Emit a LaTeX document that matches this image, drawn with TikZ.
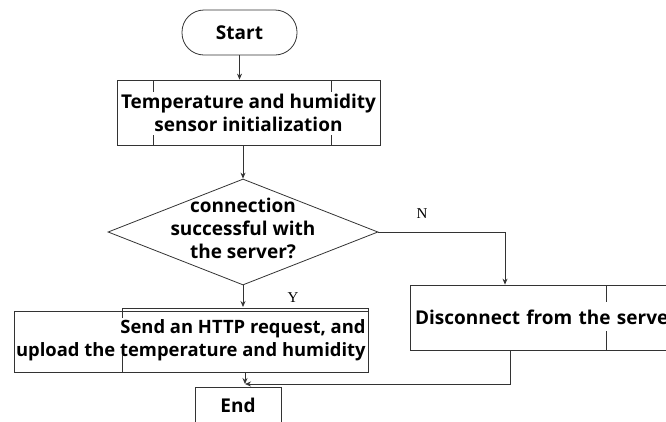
\documentclass[tikz,border=0pt]{standalone}
\usepackage{fontspec}
\setmainfont{Open Sans}
\newfontfamily\ynfont{Liberation Serif}
\usetikzlibrary{shapes.geometric,arrows.meta}
\newcommand{\yn}[1]{{\normalfont\ynfont\fontsize{15}{15}\selectfont #1}}

\begin{document}
\begin{tikzpicture}[x=1pt,y=-1pt,line width=0.8pt,draw=black!80,
    >={Stealth[length=6pt,width=5pt]},
    every node/.style={font=\bfseries\fontsize{19}{23}\selectfont,inner sep=0pt},
    term/.style={draw,rectangle,rounded corners=22pt,minimum width=115pt,minimum height=45pt},
    box/.style={draw,rectangle},
    decision/.style={draw,diamond,minimum width=270pt,minimum height=106pt}]
    \useasboundingbox (0,0) rectangle (666,421);
    % boxes
    \node[term] (start) at (239.5,32.5) {Start};
    \node[box,minimum width=263pt,minimum height=65pt,align=center] (init) at (248.5,112.5)
      {Temperature and humidity\\sensor initialization};
    \node[decision] (dec) at (243,232) {};
    \node[align=center] (dectxt) at (243,228)
      {connection\\successful with\\the server?};
    \node[box,minimum width=354pt,minimum height=61pt] (send) at (191,341.5) {};
    \node[align=right,font=\bfseries\fontsize{18.4}{23}\selectfont,anchor=east] (sendtxt) at (366,340)
      {Send an HTTP request, and\\upload the temperature and humidity};
    \node[box,minimum width=300pt,minimum height=65pt,text width=290pt,align=left] (disc) at (560,317.5)
      {Disconnect from the server};
    \node[box,minimum width=86pt,minimum height=46pt] (end) at (238,410) {};
    \node (endtxt) at (238,405) {End};
    \node (nlbl) at (422,214) {\yn{N}};
    \node (ylbl) at (293,298) {\yn{Y}};
    % inner frames
    \draw (153,80) -- (153,92) (153,135) -- (153,145);
    \draw (331,80) -- (331,92) (331,135) -- (331,145);
    \draw (122,318) -- (122,308) -- (368,308) -- (368,311) (122,355) -- (122,372);
    \draw (606,285) -- (606,302) (606,331) -- (606,350);
    % connectors
    \coordinate (nturn) at (505,228);
    \coordinate (join) at (245,384);
    \path[->] (start) edge (start |- init.north);
    \path[->] (init.south -| dec.north) edge (dec.north);
    \draw[->] (dec.east) -- (dec.east -| nturn) -- (nturn |- disc.north);
    \draw[->] (dec.south) -- (dec.south |- 0,307);
    \draw[->] (send.south -| join) -- (join);
    \draw[->] (disc.south -| 510,0) |- (join);
\end{tikzpicture}
\end{document}
